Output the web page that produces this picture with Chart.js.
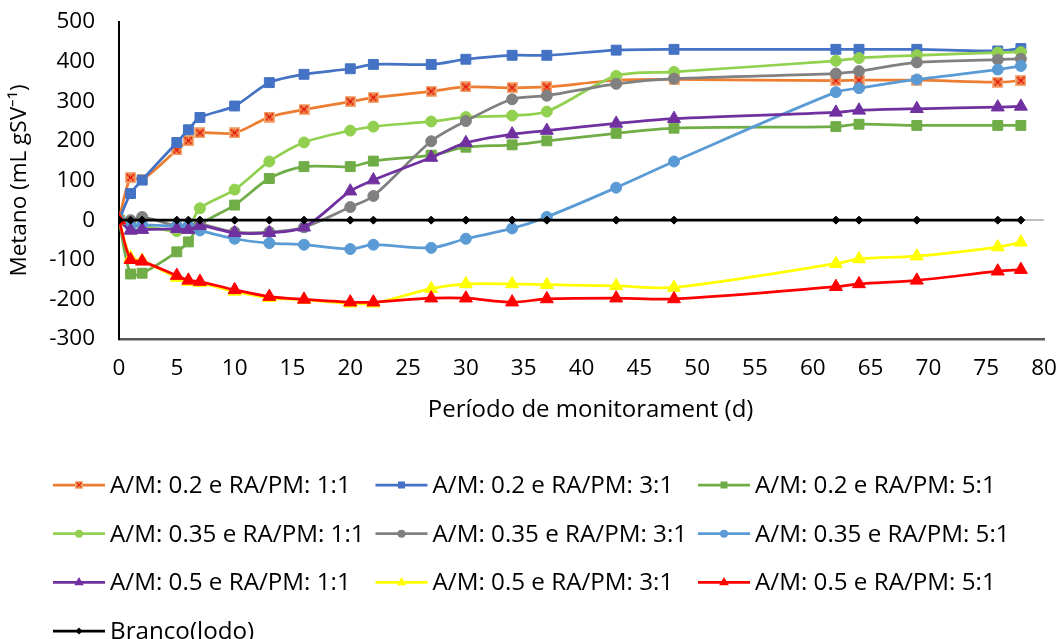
<!DOCTYPE html>
<html>
<head>
<meta charset="utf-8">
<script src="https://cdn.jsdelivr.net/npm/chart.js@4.4.0/dist/chart.umd.min.js"></script>
<style>
  html, body { margin: 0; padding: 0; background: #fff; }
  #wrap { width: 1060px; height: 639px; position: relative; }
</style>
</head>
<body>
<div id="wrap"><canvas id="metano-chart"></canvas></div>
<script>
// dias de monitoramento
const days = [0, 1, 2, 5, 6, 7, 10, 13, 16, 20, 22, 27, 30, 34, 37, 43, 48, 62, 64, 69, 76, 78];

const am02_11  = [0, 107, 102, 177, 200, 220, 220, 260, 279, 299, 309, 325, 336, 334, 336, 353, 355, 352, 353, 353, 348, 352];
const am02_31  = [0, 67, 101, 196, 228, 259, 288, 347, 368, 382, 393, 393, 406, 416, 416, 429, 431, 431, 431, 431, 427, 433];
const am02_51  = [0, -136, -134, -80, -55, -12, 38, 105, 135, 135, 149, 164, 184, 190, 200, 219, 232, 236, 242, 239, 239, 239];
const am035_11 = [0, -12, -15, -28, -20, 30, 77, 148, 196, 226, 236, 249, 260, 264, 274, 364, 374, 402, 409, 416, 423, 424];
const am035_31 = [0, 0, 8, -15, -15, -10, -30, -30, -18, 33, 61, 199, 250, 305, 314, 344, 357, 370, 376, 398, 405, 407];
const am035_51 = [0, -15, -12, -15, -15, -26, -47, -58, -62, -73, -62, -70, -47, -21, 8, 82, 148, 323, 333, 355, 380, 389];
const am05_11  = [0, -26, -24, -22, -24, -14, -32, -32, -18, 73, 101, 158, 195, 217, 226, 244, 256, 272, 277, 281, 285, 287];
const am05_31  = [0, -95, -102, -145, -155, -158, -180, -196, -201, -210, -210, -173, -161, -161, -163, -166, -170, -110, -98, -91, -68, -56];
const am05_51  = [0, -100, -104, -140, -152, -155, -176, -193, -200, -207, -207, -197, -197, -207, -199, -197, -199, -168, -161, -152, -129, -125];
const branco   = [0, 0, 0, 0, 0, 0, 0, 0, 0, 0, 0, 0, 0, 0, 0, 0, 0, 0, 0, 0, 0, 0];

const labels = [
  "A/M: 0.2 e RA/PM: 1:1", "A/M: 0.2 e RA/PM: 3:1", "A/M: 0.2 e RA/PM: 5:1",
  "A/M: 0.35 e RA/PM: 1:1", "A/M: 0.35 e RA/PM: 3:1", "A/M: 0.35 e RA/PM: 5:1",
  "A/M: 0.5 e RA/PM: 1:1", "A/M: 0.5 e RA/PM: 3:1", "A/M: 0.5 e RA/PM: 5:1",
  "Branco(lodo)"
];
const series = [am02_11, am02_31, am02_51, am035_11, am035_31, am035_51, am05_11, am05_31, am05_51, branco];
const colors = ['#ED7D31', '#4472C4', '#70AD47', '#92D050', '#808080', '#5B9BD5', '#7030A0', '#FFFF00', '#FF0000', '#000000'];

// orange square with red x (excel marker)
function xMarker(size) {
  const c = document.createElement('canvas');
  c.width = size; c.height = size;
  const g = c.getContext('2d');
  g.fillStyle = '#F08A4B';
  g.fillRect(0, 0, size, size);
  g.strokeStyle = '#F4B183';
  g.lineWidth = 1;
  g.strokeRect(0.5, 0.5, size - 1, size - 1);
  g.strokeStyle = '#E00000';
  g.lineWidth = size / 6;
  g.setLineDash([1.5, 1]);
  g.beginPath();
  g.moveTo(2, 2); g.lineTo(size - 2, size - 2);
  g.moveTo(size - 2, 2); g.lineTo(2, size - 2);
  g.stroke();
  return c;
}

const styles = [xMarker(11), 'rect', 'rect', 'circle', 'circle', 'circle', 'triangle', 'triangle', 'triangle', 'rectRot'];
const radii  = [6, 7, 7, 5.5, 5.5, 5.5, 7.5, 7.5, 7.5, 4];
const legendX = xMarker(8);

function drawMarker(ctx, style, color, x, y) {
  ctx.fillStyle = color;
  ctx.beginPath();
  if (style === 'rect') {
    ctx.rect(x - 3.5, y - 3.5, 7, 7);
  } else if (style === 'circle') {
    ctx.arc(x, y, 4, 0, Math.PI * 2);
  } else if (style === 'triangle') {
    const r = 5.5;
    ctx.moveTo(x, y - r);
    ctx.lineTo(x + r * 0.866, y + r / 2);
    ctx.lineTo(x - r * 0.866, y + r / 2);
    ctx.closePath();
  } else if (style === 'rectRot') {
    ctx.moveTo(x - 3.5, y); ctx.lineTo(x, y - 3.5); ctx.lineTo(x + 3.5, y); ctx.lineTo(x, y + 3.5);
    ctx.closePath();
  } else {
    ctx.drawImage(legendX, x - 4, y - 4);
    return;
  }
  ctx.fill();
}

const gridLegend = {
  id: 'gridLegend',
  afterDraw(chart) {
    const ctx = chart.ctx;
    ctx.save();
    chart.data.datasets.forEach((ds, i) => {
      const col = i % 3, row = Math.floor(i / 3);
      const x = 53 + col * 322.5;
      const y = chart.chartArea.bottom + 146 + row * 48.7;
      ctx.strokeStyle = ds.borderColor;
      ctx.lineWidth = 2.75;
      ctx.beginPath(); ctx.moveTo(x, y); ctx.lineTo(x + 52, y); ctx.stroke();
      drawMarker(ctx, styles[i], ds.borderColor, x + 26, y);
      ctx.fillStyle = '#000';
      ctx.font = '24.2px "Open Sans"';
      ctx.textBaseline = 'middle';
      ctx.fillText(ds.label, x + 57, y + 1);
    });
    ctx.restore();
  }
};

const datasets = series.map((vals, i) => ({
  label: labels[i],
  data: days.map((d, k) => ({ x: d, y: vals[k] })),
  borderColor: colors[i],
  backgroundColor: colors[i],
  pointBackgroundColor: colors[i],
  pointBorderColor: colors[i],
  pointBorderWidth: 1,
  pointStyle: styles[i],
  pointRadius: radii[i],
  borderWidth: 2.75,
  tension: 0.3,
  order: series.length - i
}));

new Chart(document.getElementById('metano-chart'), {
  type: 'line',
  data: { datasets: datasets },
  plugins: [gridLegend],
  options: {
    responsive: true,
    maintainAspectRatio: false,
    animation: false,
    layout: { padding: { top: 22, right: 16, bottom: 213, left: 0 } },
    plugins: {
      legend: { display: false },
      tooltip: { enabled: false }
    },
    scales: {
      x: {
        type: 'linear',
        min: 0,
        max: 80,
        ticks: { stepSize: 5, padding: 16, color: '#000', font: { family: 'Open Sans', size: 22.5 } },
        grid: { display: false, drawTicks: false },
        border: { display: true, color: '#595959', width: 2.5 },
        title: {
          display: true,
          text: '\u2002 Período de monitorament (d)',
          color: '#000',
          font: { family: 'Open Sans', size: 24 },
          padding: { top: 0, bottom: 1 }
        },
        afterFit(scale) {
          scale.height = 87;
          scale.paddingLeft = 0;
          scale.paddingRight = 0;
        }
      },
      y: {
        min: -300,
        max: 500,
        ticks: { stepSize: 100, padding: 24, color: '#000', font: { family: 'Open Sans', size: 22.5 } },
        grid: {
          drawTicks: false,
          lineWidth: 2,
          color: ctx => (ctx.tick && ctx.tick.value === 0 ? '#bfbfbf' : 'rgba(0,0,0,0)')
        },
        border: { display: true, color: '#000', width: 2 },
        title: {
          display: true,
          text: 'Metano (mL gSV⁻¹)',
          color: '#000',
          font: { family: 'Open Sans', size: 22.5 },
          padding: { top: 6, bottom: 0 }
        },
        afterFit(scale) {
          scale.width = 119;
          scale.paddingTop = 0;
          scale.paddingBottom = 0;
        }
      }
    }
  }
});
</script>
</body>
</html>
